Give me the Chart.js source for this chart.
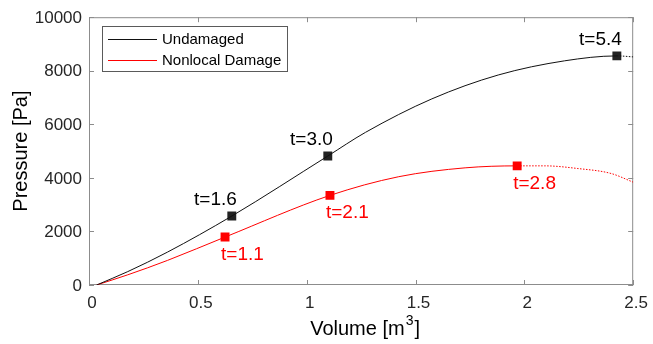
<!DOCTYPE html>
<html>
<head>
<meta charset="utf-8">
<script src="https://cdn.jsdelivr.net/npm/chart.js@4"></script>
<style>
  body { margin: 0; background: #fff; }
  canvas { display: block; }
</style>
</head>
<body>
<canvas id="pvChart" width="653" height="344"></canvas>
<script>
// curve data (volume in m3, pressure in Pa)
const undamagedX = [0.035, 0.178, 0.361, 0.656, 1.097, 1.27, 1.575, 1.88, 2.185, 2.425, 2.5];
const undamagedY = [0, 500, 1230, 2574, 4816, 5699, 6950, 7842, 8371, 8555, 8518];
const damageX = [0.035, 0.178, 0.361, 0.625, 1.107, 1.423, 1.728, 1.967, 2.094, 2.246, 2.398, 2.5];
const damageY = [0, 380, 920, 1790, 3346, 4044, 4375, 4449, 4449, 4349, 4165, 3840];

// time markers
const undamagedMarkX = [0.656, 1.097, 2.425];
const undamagedMarkY = [2574, 4816, 8555];
const undamagedMarkText = ["t=1.6", "t=3.0", "t=5.4"];
const damageMarkX = [0.625, 1.107, 1.967];
const damageMarkY = [1790, 3346, 4449];
const damageMarkText = ["t=1.1", "t=2.1", "t=2.8"];

const xTicks = [0, 0.5, 1, 1.5, 2, 2.5];
const yTicks = [0, 2000, 4000, 6000, 8000, 10000];

const FONT = "'Liberation Sans', Arial, sans-serif";
const AXIS_GREY = "#8c8c8c";
const BLACK = "#111111";
const RED = "#ff0000";

Chart.defaults.font.family = FONT;

const toPts = (xs, ys) => xs.map((x, i) => ({x: x, y: ys[i]}));

// past the last marker the curve is dotted
function tailDash(xs, lastX) {
    const start = xs.indexOf(lastX);
    return ctx => ctx.p0DataIndex >= start ? [1.5, 1.5] : undefined;
}

function lineSet(label, xs, ys, color, lastX) {
    return {
        label: label,
        data: toPts(xs, ys),
        showLine: true,
        borderColor: color,
        borderWidth: 1,
        pointRadius: 0,
        cubicInterpolationMode: "monotone",
        segment: {borderDash: tailDash(xs, lastX)}
    };
}

function markSet(xs, ys, color, texts, side) {
    return {
        label: "",
        data: toPts(xs, ys),
        showLine: false,
        pointStyle: "rect",
        pointRadius: 6.3,
        backgroundColor: color,
        borderWidth: 0,
        markTexts: texts,
        markSide: side,
        markColor: color
    };
}

// box around the plot with inward ticks on all four sides (matlab look)
const boxPlugin = {
    id: "box",
    beforeDatasetsDraw(chart) {
        const {ctx, chartArea: a, scales} = chart;
        ctx.save();
        ctx.strokeStyle = AXIS_GREY;
        ctx.lineWidth = 1;
        ctx.strokeRect(a.left + 0.5, a.top + 0.5, a.right - a.left - 1, a.bottom - a.top - 1);
        ctx.beginPath();
        xTicks.forEach(v => {
            const px = Math.round(scales.x.getPixelForValue(v)) + 0.5;
            ctx.moveTo(px, a.bottom); ctx.lineTo(px, a.bottom - 5);
            ctx.moveTo(px, a.top); ctx.lineTo(px, a.top + 5);
        });
        yTicks.forEach(v => {
            const py = Math.round(scales.y.getPixelForValue(v)) + 0.5;
            ctx.moveTo(a.left, py); ctx.lineTo(a.left + 5, py);
            ctx.moveTo(a.right, py); ctx.lineTo(a.right - 5, py);
        });
        ctx.stroke();
        ctx.restore();
    },
    afterDraw(chart) {
        const {ctx, chartArea: a} = chart;
        ctx.save();
        ctx.fillStyle = "#000";
        // x title with superscript
        ctx.font = "20px " + FONT;
        const t1 = "Volume [m", t2 = "3", t3 = "]";
        const w1 = ctx.measureText(t1).width;
        const w3 = ctx.measureText(t3).width;
        ctx.font = "14px " + FONT;
        const w2 = ctx.measureText(t2).width;
        let x0 = (a.left + a.right) / 2 - (w1 + w2 + w3) / 2 + 3;
        const base = 335;
        ctx.textBaseline = "alphabetic";
        ctx.textAlign = "left";
        ctx.font = "20px " + FONT;
        ctx.fillText(t1, x0, base);
        ctx.font = "14px " + FONT;
        ctx.fillText(t2, x0 + w1 + 1, base - 10);
        ctx.font = "20px " + FONT;
        ctx.fillText(t3, x0 + w1 + w2 + 2, base);
        // y title
        ctx.translate(21, (a.top + a.bottom) / 2);
        ctx.rotate(-Math.PI / 2);
        ctx.textAlign = "center";
        ctx.textBaseline = "middle";
        ctx.fillText("Pressure [Pa]", 0, 0);
        ctx.restore();

        // legend
        ctx.save();
        const lx = 102, ly = 26, lw = 185, lh = 45;
        ctx.fillStyle = "#fff";
        ctx.fillRect(lx, ly, lw, lh);
        ctx.strokeStyle = "#5a5a5a";
        ctx.lineWidth = 1;
        ctx.strokeRect(lx + 0.5, ly + 0.5, lw, lh);
        ctx.font = "15px " + FONT;
        ctx.textAlign = "left";
        ctx.textBaseline = "middle";
        chart.data.datasets.filter(d => d.showLine).forEach((d, i) => {
            const yy = 39.5 + i * 21;
            ctx.strokeStyle = d.borderColor;
            ctx.beginPath();
            ctx.moveTo(108, yy); ctx.lineTo(157, yy);
            ctx.stroke();
            ctx.fillStyle = "#000";
            ctx.fillText(d.label, 162, yy);
        });
        ctx.restore();
    }
};

// t=... labels next to the markers
const markLabelPlugin = {
    id: "markLabels",
    afterDatasetsDraw(chart) {
        const ctx = chart.ctx;
        ctx.save();
        ctx.font = "19px " + FONT;
        ctx.textBaseline = "alphabetic";
        chart.data.datasets.forEach((d, di) => {
            if (!d.markTexts) return;
            const meta = chart.getDatasetMeta(di);
            meta.data.forEach((pt, i) => {
                ctx.fillStyle = d.markSide === "above" ? "#000" : d.markColor;
                if (d.markSide === "above") {
                    ctx.textAlign = "right";
                    ctx.fillText(d.markTexts[i], pt.x + 5, pt.y - 11);
                } else {
                    ctx.textAlign = "left";
                    ctx.fillText(d.markTexts[i], pt.x - 4, pt.y + 23);
                }
            });
        });
        ctx.restore();
    }
};

new Chart(document.getElementById("pvChart"), {
    type: "scatter",
    data: {
        datasets: [
            lineSet("Undamaged", undamagedX, undamagedY, BLACK, undamagedMarkX[undamagedMarkX.length - 1]),
            lineSet("Nonlocal Damage", damageX, damageY, RED, damageMarkX[damageMarkX.length - 1]),
            markSet(undamagedMarkX, undamagedMarkY, "#222222", undamagedMarkText, "above"),
            markSet(damageMarkX, damageMarkY, RED, damageMarkText, "below")
        ]
    },
    options: {
        responsive: false,
        animation: false,
        layout: {padding: {left: 0, right: 17.5, top: 13, bottom: 0}},
        plugins: {legend: {display: false}, tooltip: {enabled: false}},
        scales: {
            x: {
                type: "linear",
                min: 0,
                max: 2.5,
                afterBuildTicks: s => { s.ticks = xTicks.map(v => ({value: v})); },
                ticks: {padding: 8, labelOffset: 3, color: "#262626", font: {size: 17}, maxRotation: 0, callback: v => String(v)},
                grid: {display: false, drawTicks: false},
                border: {display: false},
                afterFit: s => { s.height = 59; }
            },
            y: {
                type: "linear",
                min: 0,
                max: 10000,
                afterBuildTicks: s => { s.ticks = yTicks.map(v => ({value: v})); },
                ticks: {padding: 7, labelOffset: 1, color: "#262626", font: {size: 17}, callback: v => String(v)},
                grid: {display: false, drawTicks: false},
                border: {display: false},
                afterFit: s => { s.width = 89; }
            }
        }
    },
    plugins: [boxPlugin, markLabelPlugin]
});
</script>
</body>
</html>
